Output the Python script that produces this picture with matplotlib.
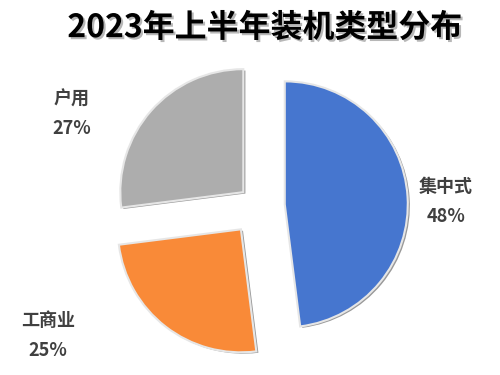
import matplotlib.pyplot as plt
import matplotlib.patheffects as pe

plt.rcParams['font.family'] = ['Noto Sans CJK SC', 'DejaVu Sans']

title = '2023年上半年装机类型分布'
categories = ['集中式', '工商业', '户用']
shares = [48, 25, 27]
colors = ['#4676CF', '#F98A38', '#ADADAD']
explode_frac = [0.21, 0.24, 0.17]

# label anchor points in pixel space (x right, y up)
label_pos = [(446, 188), (48, 55), (72, 276)]

W, H = 500, 375
R = 123
fig = plt.figure(figsize=(W / 100, H / 100), dpi=100)
ax = fig.add_axes([0, 0, 1, 1])

# pie's explode is in data units, so scale by the radius
wedges, _ = ax.pie(shares, colors=colors, startangle=90, counterclock=False,
                   explode=[e * R for e in explode_frac], center=(259, 169), radius=R,
                   wedgeprops=dict(edgecolor='#e6e6e6', linewidth=1.5), frame=True)
ax.set_xlim(0, W)
ax.set_ylim(0, H)
ax.set_aspect('equal')
ax.axis('off')
for w in wedges:
  w.set_path_effects([pe.SimplePatchShadow(offset=(1.5, -1), shadow_rgbFace='#555555', alpha=0.6), pe.Normal()])

for (x, y), name, v in zip(label_pos, categories, shares):
  ax.text(x, y, name, ha='center', va='center', fontsize=13, fontweight='bold', color='#404040')
  ax.text(x, y - 30, f'{v}%', ha='center', va='center', fontsize=13, fontweight='bold', color='#404040')

fig.text(0.53, 0.925, title, ha='center', va='center', fontsize=23, fontweight='bold', color='black',
         path_effects=[pe.withSimplePatchShadow(offset=(1.5, -1.5), shadow_rgbFace='#888888', alpha=0.6)])

fig.savefig('out.png', dpi=100, facecolor='white')
